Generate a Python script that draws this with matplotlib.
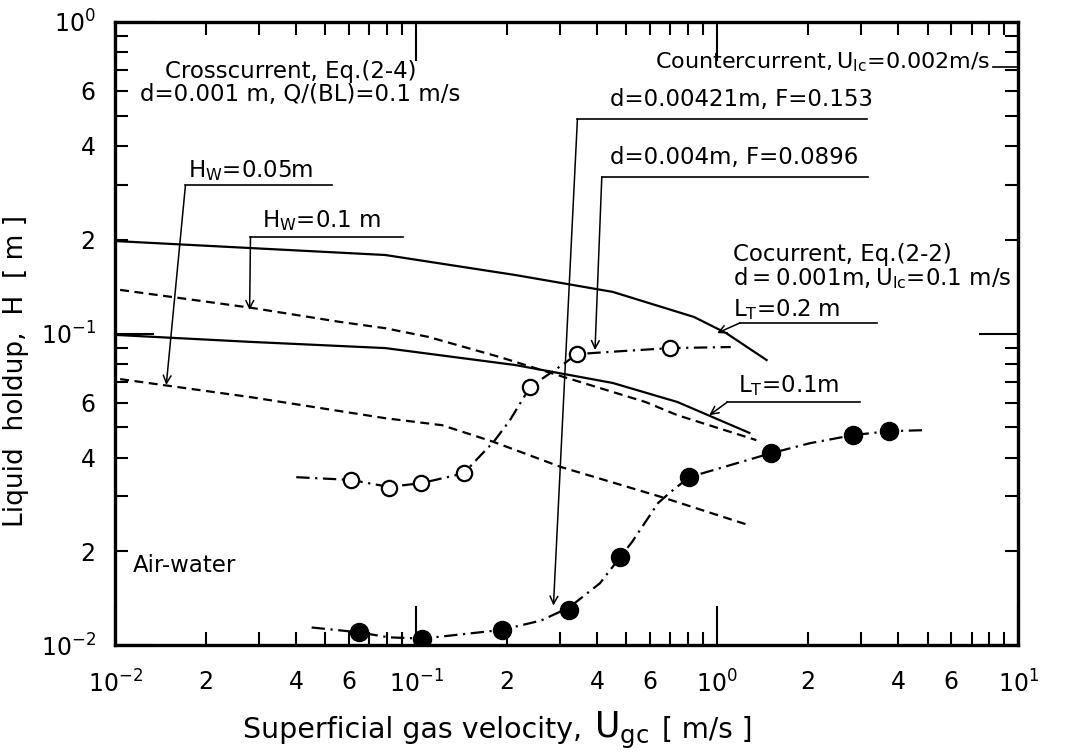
import numpy as np
import matplotlib
matplotlib.use('Agg')
import matplotlib.pyplot as plt
from matplotlib.ticker import LogLocator, FuncFormatter

# crosscurrent, Eq.(2-4): dashed lines
hw05_x = [0.0104, 0.0282, 0.079, 0.122, 0.181, 0.303, 0.652, 1.27]
hw05_y = [0.0714, 0.0625, 0.0535, 0.0508, 0.0449, 0.0373, 0.0299, 0.0243]
hw10_x = [0.0104, 0.0282, 0.0557, 0.079, 0.110, 0.190, 0.310, 0.578, 0.738, 1.35]
hw10_y = [0.138, 0.121, 0.109, 0.104, 0.0975, 0.084, 0.0725, 0.0603, 0.0547, 0.0455]

# cocurrent, Eq.(2-2): solid lines
lt02_x = [0.01, 0.0282, 0.079, 0.214, 0.45, 0.838, 1.07, 1.46]
lt02_y = [0.198, 0.188, 0.1786, 0.154, 0.136, 0.113, 0.1004, 0.0822]
lt01_x = [0.01, 0.0282, 0.079, 0.214, 0.45, 0.738, 1.28]
lt01_y = [0.099, 0.094, 0.0898, 0.0792, 0.0694, 0.0603, 0.048]

# countercurrent data, d=0.004 m (open) and d=0.00421 m (filled)
open_x = [0.061, 0.081, 0.104, 0.144, 0.239, 0.342, 0.70]
open_y = [0.0339, 0.0319, 0.0331, 0.0356, 0.0673, 0.0859, 0.0898]
open_cx = [0.040, 0.061, 0.081, 0.104, 0.144, 0.168, 0.181, 0.205, 0.239, 0.31, 0.342, 0.5, 0.70, 1.11]
open_cy = [0.0346, 0.0339, 0.0322, 0.0331, 0.0356, 0.0417, 0.0449, 0.0527, 0.0673, 0.080, 0.0859, 0.088, 0.0898, 0.0905]

fill_x = [0.0646, 0.105, 0.193, 0.322, 0.477, 0.807, 1.51, 2.83, 3.71]
fill_y = [0.0110, 0.0105, 0.0112, 0.0130, 0.0192, 0.0346, 0.0413, 0.0472, 0.0486]
fill_cx = [0.045, 0.0646, 0.081, 0.105, 0.193, 0.26, 0.322, 0.408, 0.477, 0.521, 0.637, 0.695, 0.807, 1.51, 2.04, 2.83, 3.71, 5.0]
fill_cy = [0.0114, 0.0110, 0.0106, 0.0105, 0.0112, 0.0120, 0.0132, 0.0158, 0.0192, 0.0214, 0.0286, 0.0308, 0.0346, 0.0413, 0.0445, 0.0472, 0.0486, 0.0490]

plt.rcParams['font.family'] = ['DejaVu Sans']
plt.rcParams['mathtext.default'] = 'regular'

fig = plt.figure(figsize=(10.65, 7.52), dpi=100)
ax = fig.add_axes([0.108, 0.142, 0.848, 0.829])
ax.set_xscale('log')
ax.set_yscale('log')
ax.set_xlim(1e-2, 1e1)
ax.set_ylim(1e-2, 1e0)

dash = (4, 2.5)
dashdot = (6, 2.5, 1, 2.5)
ax.plot(hw05_x, hw05_y, color='k', lw=1.6, dashes=dash)
ax.plot(hw10_x, hw10_y, color='k', lw=1.6, dashes=dash)
ax.plot(lt02_x, lt02_y, color='k', lw=1.6)
ax.plot(lt01_x, lt01_y, color='k', lw=1.6)
ax.plot(open_cx, open_cy, color='k', lw=1.6, dashes=dashdot)
ax.plot(fill_cx, fill_cy, color='k', lw=1.6, dashes=dashdot)
ax.plot(open_x, open_y, 'o', ms=11, mfc='white', mec='k', mew=1.6, zorder=5)
ax.plot(fill_x, fill_y, 'o', ms=13, mfc='k', mec='k', zorder=5)


def fmt(v, pos):
    e = int(np.floor(np.log10(v) + 1e-9))
    m = int(round(v / 10.0 ** e))
    if m == 1:
        return r'$10^{%d}$' % e
    if m in (2, 4, 6):
        return str(m)
    return ''


for axis in (ax.xaxis, ax.yaxis):
    axis.set_major_locator(LogLocator(base=10))
    axis.set_minor_locator(LogLocator(base=10, subs=np.arange(2, 10)))
    axis.set_major_formatter(FuncFormatter(fmt))
    axis.set_minor_formatter(FuncFormatter(fmt))
ax.tick_params(which='both', direction='in', top=True, right=True,
               labelsize=17, width=1.5)
ax.tick_params(axis='x', which='both', pad=18)
ax.tick_params(axis='y', which='both', pad=14)
ax.tick_params(which='major', length=28)
ax.tick_params(which='minor', length=9.5)
for s in ax.spines.values():
    s.set_linewidth(2.4)

# x label: larger U_gc as in the original
fig.text(0.228, 0.0186, 'Superficial gas velocity,', fontsize=20.5, va='baseline')
fig.text(0.558, 0.0186, '$U_{gc}$', fontsize=25, va='baseline')
fig.text(0.622, 0.0186, '[ m/s ]', fontsize=20, va='baseline')
ax.set_ylabel('Liquid  holdup,  H  [ m ]', fontsize=19)
ax.yaxis.set_label_coords(-0.095, 0.44)

fs = 16.5
ax.text(0.055, 0.920, 'Crosscurrent, Eq.(2-4)', transform=ax.transAxes, fontsize=fs, va='center')
ax.text(0.028, 0.883, 'd=0.001 m, Q/(BL)=0.1 m/s', transform=ax.transAxes, fontsize=fs, va='center')
ax.text(0.969, 0.936, '$Countercurrent, U_{lc}$=0.002m/s', transform=ax.transAxes,
        fontsize=fs - 0.5, va='center', ha='right')
ax.text(0.020, 0.128, 'Air-water', transform=ax.transAxes, fontsize=fs, va='center')
ax.text(0.684, 0.626, 'Cocurrent, Eq.(2-2)', transform=ax.transAxes, fontsize=fs, va='center')
ax.text(0.684, 0.589, '$d=0.001m, U_{lc}$=0.1 m/s', transform=ax.transAxes, fontsize=fs, va='center')


def leader(label, tx, ty, x0, x1, yl, tip):
    ax.text(tx, ty, label, transform=ax.transAxes, fontsize=fs, va='center')
    ax.plot([x0, x1], [yl, yl], transform=ax.transAxes, color='k', lw=1.2, clip_on=False)
    ax.annotate('', xy=tip, xycoords='data', xytext=(x0, yl), textcoords='axes fraction',
                arrowprops=dict(arrowstyle='->', lw=1.1, color='k', shrinkA=0, shrinkB=0,
                                mutation_scale=14))


leader('$H_W$=0.05m', 0.081, 0.762, 0.078, 0.240, 0.738, (0.0148, 0.0684))
leader('$H_W$=0.1 m', 0.163, 0.682, 0.150, 0.319, 0.655, (0.028, 0.119))
leader('d=0.00421m, F=0.153', 0.548, 0.875, 0.512, 0.833, 0.844, (0.286, 0.0134))
leader('d=0.004m, F=0.0896', 0.548, 0.782, 0.539, 0.834, 0.751, (0.393, 0.0885))
leader('$L_T$=0.2 m', 0.684, 0.538, 0.692, 0.844, 0.517, (1.0, 0.1003))
leader('$L_T$=0.1m', 0.690, 0.417, 0.678, 0.825, 0.390, (0.942, 0.0547))
ax.plot([0.972, 1.0], [0.928, 0.928], transform=ax.transAxes, color='k', lw=1.2)

fig.savefig('out.png', dpi=100)
